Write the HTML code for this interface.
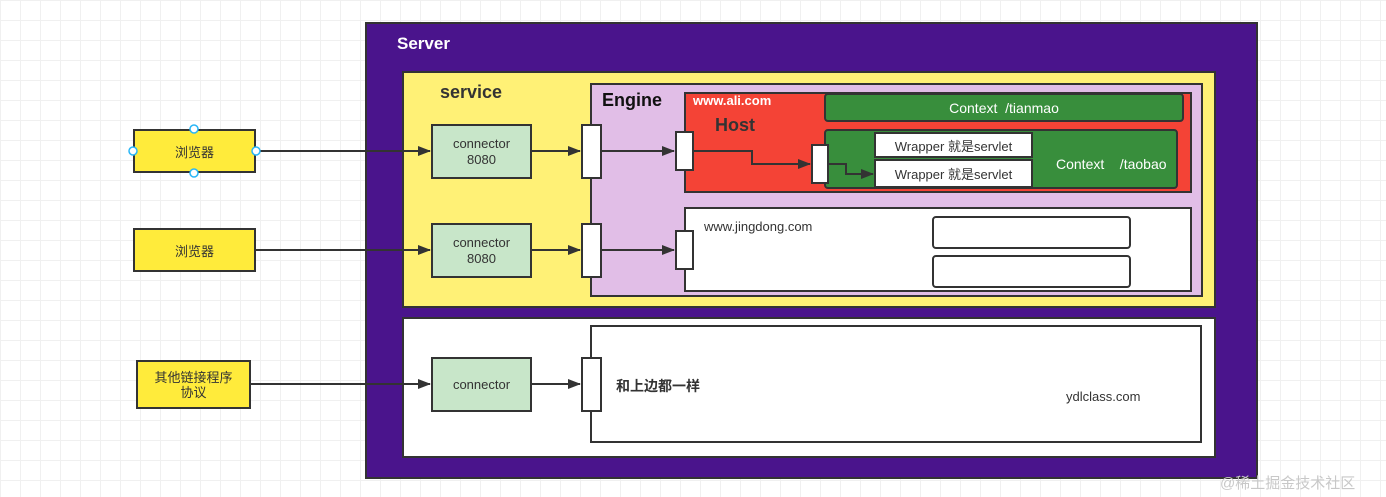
<!DOCTYPE html>
<html><head><meta charset="utf-8"><style>
body{margin:0;width:1386px;height:497px;overflow:hidden;position:relative;
background-color:#fff;
background-image:linear-gradient(#f0f0f0 1px,transparent 1px),linear-gradient(90deg,#f0f0f0 1px,transparent 1px);
background-size:20px 20px;
font-family:"Liberation Sans","Noto Sans CJK SC",sans-serif;}
.b{position:absolute;box-sizing:border-box;border:2px solid #333;}
.t{position:absolute;white-space:nowrap;}
.c{display:flex;align-items:center;justify-content:center;text-align:center;}
</style></head><body>
<div class="b" style="left:365px;top:22px;width:893px;height:457px;background:#4a148c;"></div>
<div class="t" style="left:397px;top:34px;color:#fff;font-weight:bold;font-size:17px;">Server</div>
<div class="b" style="left:402px;top:71px;width:814px;height:237px;background:#fff176;"></div>
<div class="t" style="left:440px;top:82px;color:#333;font-weight:bold;font-size:18px;">service</div>
<div class="b" style="left:590px;top:83px;width:613px;height:214px;background:#e1bee7;"></div>
<div class="t" style="left:602px;top:90px;color:#111;font-weight:bold;font-size:18px;">Engine</div>
<div class="b" style="left:684px;top:92px;width:508px;height:101px;background:#f44336;"></div>
<div class="t" style="left:693px;top:93px;color:#fff;font-size:13px;font-weight:bold;">www.ali.com</div>
<div class="t" style="left:715px;top:115px;color:#333;font-weight:bold;font-size:18px;">Host</div>
<div class="b c" style="left:824px;top:93px;width:360px;height:29px;background:#388e3c;border-radius:4px;color:#fff;font-size:14px;">Context&nbsp;&nbsp;/tianmao</div>
<div class="b" style="left:824px;top:129px;width:354px;height:60px;background:#388e3c;border-radius:4px;"></div>
<div class="t" style="left:1056px;top:156px;color:#fff;font-size:14px;">Context&nbsp;&nbsp;&nbsp;&nbsp;/taobao</div>
<div class="b c" style="left:874px;top:132px;width:159px;height:26px;background:#fff;color:#333;font-size:13px;">Wrapper 就是servlet</div>
<div class="b c" style="left:874px;top:159px;width:159px;height:29px;background:#fff;color:#333;font-size:13px;">Wrapper 就是servlet</div>
<div class="b" style="left:684px;top:207px;width:508px;height:85px;background:#fff;"></div>
<div class="t" style="left:704px;top:219px;color:#333;font-size:13px;">www.jingdong.com</div>
<div class="b" style="left:932px;top:216px;width:199px;height:33px;background:#fff;border-radius:4px;"></div>
<div class="b" style="left:932px;top:255px;width:199px;height:33px;background:#fff;border-radius:4px;"></div>
<div class="b" style="left:402px;top:317px;width:814px;height:141px;background:#fff;"></div>
<div class="b" style="left:590px;top:325px;width:612px;height:118px;background:#fff;"></div>
<div class="t" style="left:616px;top:376px;color:#333;font-weight:bold;font-size:14px;">和上边都一样</div>
<div class="t" style="left:1066px;top:389px;color:#333;font-size:13px;">ydlclass.com</div>

<div class="b c" style="left:133px;top:129px;width:123px;height:44px;background:#ffeb3b;color:#333;font-size:13px;">浏览器</div>
<div class="b c" style="left:133px;top:228px;width:123px;height:44px;background:#ffeb3b;color:#333;font-size:13px;">浏览器</div>
<div class="b c" style="left:136px;top:360px;width:115px;height:49px;background:#ffeb3b;color:#333;font-size:13px;line-height:15px;">其他链接程序<br>协议</div>

<div class="b c" style="left:431px;top:124px;width:101px;height:55px;background:#c8e6c9;color:#333;font-size:13px;line-height:16px;">connector<br>8080</div>
<div class="b c" style="left:431px;top:223px;width:101px;height:55px;background:#c8e6c9;color:#333;font-size:13px;line-height:16px;">connector<br>8080</div>
<div class="b c" style="left:431px;top:357px;width:101px;height:55px;background:#c8e6c9;color:#333;font-size:13px;">connector</div>

<div class="b" style="left:581px;top:124px;width:21px;height:55px;background:#fff;"></div>
<div class="b" style="left:581px;top:223px;width:21px;height:55px;background:#fff;"></div>
<div class="b" style="left:581px;top:357px;width:21px;height:55px;background:#fff;"></div>
<div class="b" style="left:675px;top:131px;width:19px;height:40px;background:#fff;"></div>
<div class="b" style="left:675px;top:230px;width:19px;height:40px;background:#fff;"></div>
<div class="b" style="left:811px;top:144px;width:18px;height:40px;background:#fff;"></div>

<svg style="position:absolute;left:0;top:0" width="1386" height="497">
<defs><marker id="a" markerWidth="13" markerHeight="10" refX="12" refY="5" orient="auto" markerUnits="userSpaceOnUse"><path d="M0,0L13,5L0,10z" fill="#333"/></marker></defs>
<g stroke="#333" stroke-width="2" fill="none" marker-end="url(#a)">
<path d="M256,151H430"/><path d="M256,250H430"/><path d="M251,384H430"/>
<path d="M532,151H580"/><path d="M532,250H580"/><path d="M532,384H580"/>
<path d="M602,151H674"/><path d="M602,250H674"/>
<path d="M694,151H752V164H810"/>
<path d="M829,164H846V174H873"/>
</g>
<g fill="#fff" stroke="#29b6f6" stroke-width="1.5">
<circle cx="194" cy="129" r="4"/><circle cx="194" cy="173" r="4"/><circle cx="133" cy="151" r="4"/><circle cx="256" cy="151" r="4"/>
</g>
</svg>
<div class="t" style="left:1220px;top:472px;color:#c8c8c8;font-size:15px;">@稀土掘金技术社区</div>
</body></html>
